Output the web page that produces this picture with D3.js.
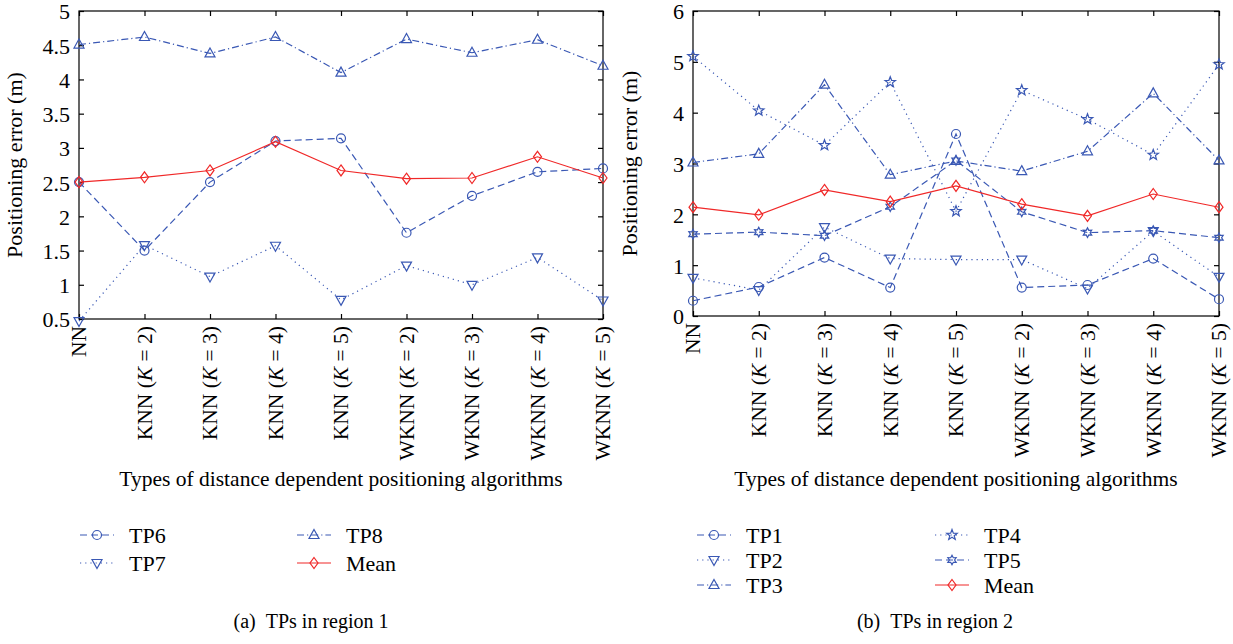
<!DOCTYPE html>
<html>
<head>
<meta charset="utf-8">
<script src="https://cdn.jsdelivr.net/npm/d3@7"></script>
<style>
	body { margin: 0; background: #fff; }
	svg text { font-family: "Liberation Serif", "Times New Roman", serif; fill: #000; }
</style>
</head>
<body>
<div id="chart"></div>
<script>
// categories shared by both panels
const categories = ['NN', 'KNN (K = 2)', 'KNN (K = 3)', 'KNN (K = 4)', 'KNN (K = 5)',
	'WKNN (K = 2)', 'WKNN (K = 3)', 'WKNN (K = 4)', 'WKNN (K = 5)'];

// region 1
const tp6 = [2.50, 1.50, 2.50, 3.10, 3.14, 1.76, 2.30, 2.65, 2.70];
const tp7 = [0.47, 1.58, 1.12, 1.57, 0.78, 1.28, 1.00, 1.40, 0.77];
const tp8 = [4.51, 4.62, 4.38, 4.62, 4.10, 4.59, 4.39, 4.58, 4.20];
const mean1 = [2.50, 2.57, 2.67, 3.09, 2.67, 2.55, 2.56, 2.87, 2.56];
const yTicks1 = [0.5, 1, 1.5, 2, 2.5, 3, 3.5, 4, 4.5, 5];

// region 2
const tp1 = [0.30, 0.57, 1.15, 0.56, 3.58, 0.56, 0.61, 1.13, 0.33];
const tp2 = [0.75, 0.51, 1.75, 1.13, 1.11, 1.11, 0.54, 1.67, 0.77];
const tp3 = [3.02, 3.19, 4.55, 2.78, 3.05, 2.85, 3.24, 4.38, 3.06];
const tp4 = [5.11, 4.04, 3.36, 4.60, 2.06, 4.44, 3.87, 3.17, 4.95];
const tp5 = [1.61, 1.65, 1.58, 2.15, 3.06, 2.05, 1.64, 1.68, 1.54];
const mean2 = [2.14, 1.99, 2.48, 2.25, 2.56, 2.20, 1.97, 2.40, 2.14];
const yTicks2 = [0, 1, 2, 3, 4, 5, 6];

const blue = '#3a58b4';
const red = '#f02828';

const dash = {solid: null, dashed: '7,4', dotted: '1.2,4', dashdot: '7,3,1.2,3'};

const _star = (n, ro, ri) => {
	const pts = [];
	for (let i = 0; i < n * 2; i++){
		const r = i % 2 ? ri : ro;
		const a = -Math.PI / 2 + i * Math.PI / n;
		pts.push([r * Math.cos(a), r * Math.sin(a)]);
	}
	return 'M' + pts.map(p => p.join(',')).join('L') + 'Z';
};

const markers = {
	circle: 'M4.5,0A4.5,4.5 0 1,1 -4.5,0A4.5,4.5 0 1,1 4.5,0Z',
	up: 'M0,-5.5L5,3.5L-5,3.5Z',
	down: 'M0,5.5L5,-3.5L-5,-3.5Z',
	diamond: 'M0,-5.5L4,0L0,5.5L-4,0Z',
	star: _star(5, 5.5, 2.3),
	hex: _star(6, 4.8, 2.6)
};

const svg = d3.select('#chart').append('svg')
	.attr('width', 1233)
	.attr('height', 644);

const _labelText = (sel, label) =>{
	const m = label.match(/^(\w+) \(K = (\d)\)$/);
	if (!m){
		sel.text(label);
		return;
	}
	sel.append('tspan').text(m[1] + ' (');
	sel.append('tspan').attr('font-style', 'italic').text('K');
	sel.append('tspan').text(' = ' + m[2] + ')');
};

const drawPanel = (opt) =>{
	const {x0, x1, y0, y1, domain, ticks, series, legend, caption, captionX, ylabelX} = opt;
	const g = svg.append('g');
	const x = d3.scalePoint().domain(categories).range([x0, x1]);
	const y = d3.scaleLinear().domain(domain).range([y1, y0]);

	// box
	g.append('rect')
		.attr('x', x0).attr('y', y0)
		.attr('width', x1 - x0).attr('height', y1 - y0)
		.attr('fill', 'none').attr('stroke', '#000').attr('stroke-width', 1.2);

	const yl = g.append('g').attr('transform', `translate(${x0},0)`)
		.call(d3.axisLeft(y).tickValues(ticks).tickSize(-5).tickPadding(9).tickFormat(d3.format('')));
	const yr = g.append('g').attr('transform', `translate(${x1},0)`)
		.call(d3.axisRight(y).tickValues(ticks).tickSize(-5).tickFormat(''));
	const xb = g.append('g').attr('transform', `translate(0,${y1})`)
		.call(d3.axisBottom(x).tickSize(-5).tickFormat(''));
	const xt = g.append('g').attr('transform', `translate(0,${y0})`)
		.call(d3.axisTop(x).tickSize(-5).tickFormat(''));
	[yl, yr, xb, xt].forEach(a =>{
		a.attr('font-family', null).attr('font-size', null);
		a.select('.domain').remove();
		a.selectAll('line').attr('stroke', '#000').attr('stroke-width', 1.2);
	});
	yl.selectAll('text')
		.attr('fill', '#000')
		.attr('dy', '0.36em')
		.style('font-size', '22px');

	// rotated category labels
	g.selectAll('.xlab')
		.data(categories)
		.enter()
		.append('text')
		.attr('class', 'xlab')
		.attr('transform', d => `translate(${x(d)},${y1 + 7}) rotate(-90)`)
		.attr('text-anchor', 'end')
		.attr('dy', '0.34em')
		.style('font-size', '21.5px')
		.each(function (d){ _labelText(d3.select(this), d); });

	g.append('text')
		.attr('transform', `translate(${ylabelX},${(y0 + y1) / 2}) rotate(-90)`)
		.attr('text-anchor', 'middle')
		.style('font-size', '22px')
		.text('Positioning error (m)');

	g.append('text')
		.attr('x', (x0 + x1) / 2)
		.attr('y', 486)
		.attr('text-anchor', 'middle')
		.style('font-size', '21.5px')
		.text('Types of distance dependent positioning algorithms');

	const line = d3.line().x((d, i) => x(categories[i])).y(d => y(d));

	series.forEach(s =>{
		g.append('path')
			.attr('d', line(s.values))
			.attr('fill', 'none')
			.attr('stroke', s.color)
			.attr('stroke-width', 1.2)
			.attr('stroke-dasharray', dash[s.style]);
		g.selectAll(null)
			.data(s.values)
			.enter()
			.append('path')
			.attr('d', markers[s.marker])
			.attr('transform', (d, i) => `translate(${x(categories[i])},${y(d)})`)
			.attr('fill', 'none')
			.attr('stroke', s.color)
			.attr('stroke-width', 1.2);
	});

	// legend
	legend.forEach(item =>{
		const s = series[item.idx];
		const lg = g.append('g').attr('transform', `translate(${item.x},${item.y})`);
		lg.append('line')
			.attr('x1', 0).attr('x2', 34)
			.attr('stroke', s.color)
			.attr('stroke-width', 1.2)
			.attr('stroke-dasharray', dash[s.style]);
		lg.append('path')
			.attr('d', markers[s.marker])
			.attr('transform', 'translate(17,0)')
			.attr('fill', 'none')
			.attr('stroke', s.color)
			.attr('stroke-width', 1.2);
		lg.append('text')
			.attr('x', 49)
			.attr('dy', '0.35em')
			.style('font-size', '22px')
			.text(s.name);
	});

	svg.append('text')
		.attr('x', captionX)
		.attr('y', 628)
		.attr('text-anchor', 'middle')
		.style('font-size', '20px')
		.text(caption);
};

drawPanel({
	x0: 79, x1: 603, y0: 11, y1: 319,
	domain: [0.5, 5], ticks: yTicks1, ylabelX: 22,
	series: [
		{name: 'TP6', values: tp6, color: blue, style: 'dashed', marker: 'circle'},
		{name: 'TP7', values: tp7, color: blue, style: 'dotted', marker: 'down'},
		{name: 'TP8', values: tp8, color: blue, style: 'dashdot', marker: 'up'},
		{name: 'Mean', values: mean1, color: red, style: 'solid', marker: 'diamond'}
	],
	legend: [
		{idx: 0, x: 80, y: 535}, {idx: 1, x: 80, y: 563},
		{idx: 2, x: 297, y: 535}, {idx: 3, x: 297, y: 563}
	],
	caption: '(a)\u00a0\u00a0TPs in region 1', captionX: 311
});

drawPanel({
	x0: 693, x1: 1219, y0: 11, y1: 316,
	domain: [0, 6], ticks: yTicks2, ylabelX: 637,
	series: [
		{name: 'TP1', values: tp1, color: blue, style: 'dashed', marker: 'circle'},
		{name: 'TP2', values: tp2, color: blue, style: 'dotted', marker: 'down'},
		{name: 'TP3', values: tp3, color: blue, style: 'dashdot', marker: 'up'},
		{name: 'TP4', values: tp4, color: blue, style: 'dotted', marker: 'star'},
		{name: 'TP5', values: tp5, color: blue, style: 'dashed', marker: 'hex'},
		{name: 'Mean', values: mean2, color: red, style: 'solid', marker: 'diamond'}
	],
	legend: [
		{idx: 0, x: 697, y: 535}, {idx: 1, x: 697, y: 560}, {idx: 2, x: 697, y: 585},
		{idx: 3, x: 935, y: 535}, {idx: 4, x: 935, y: 560}, {idx: 5, x: 935, y: 585}
	],
	caption: '(b)\u00a0\u00a0TPs in region 2', captionX: 935
});
</script>
</body>
</html>
